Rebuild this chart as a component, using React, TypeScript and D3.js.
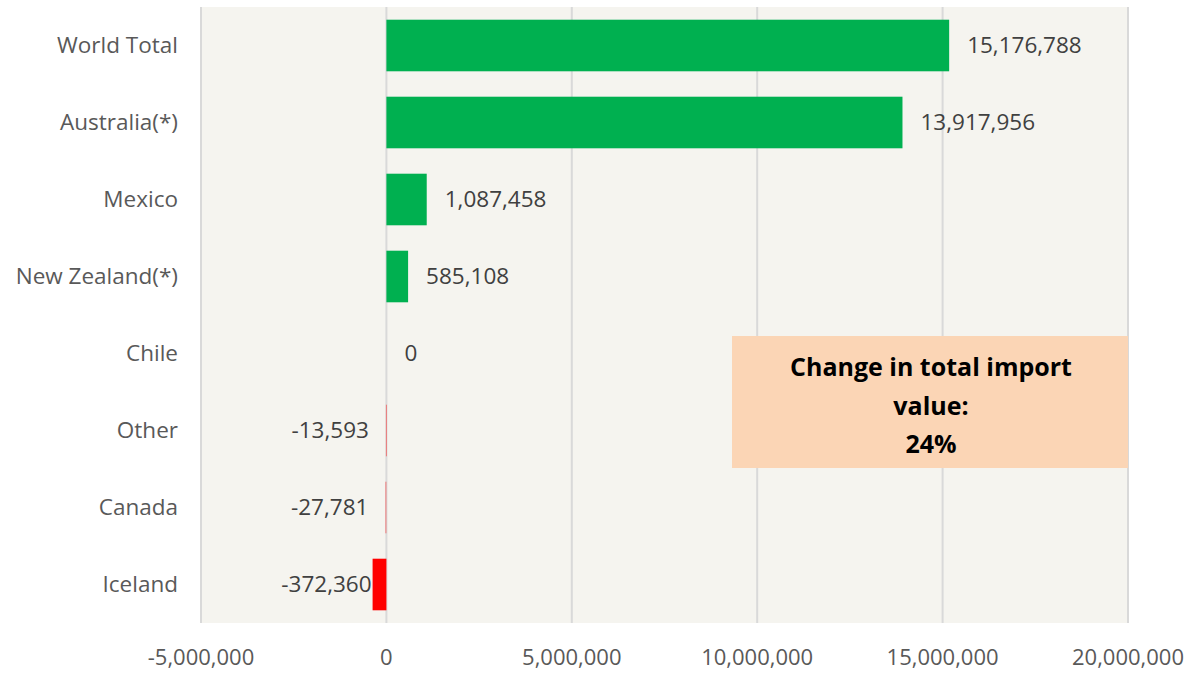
import React, { useEffect, useRef } from 'react';
import * as d3 from 'd3';

const categories = ['World Total', 'Australia(*)', 'Mexico', 'New Zealand(*)', 'Chile', 'Other', 'Canada', 'Iceland'];
const values = [15176788, 13917956, 1087458, 585108, 0, -13593, -27781, -372360];
const xTicks = [-5000000, 0, 5000000, 10000000, 15000000, 20000000];
const noteLines = ['Change in total import', 'value:', '24%'];

const W = 1199;
const H = 673;
const FONT = "'Open Sans', 'Noto Sans', sans-serif";

const fmt = d3.formatLocale({ decimal: '.', thousands: ',', grouping: [3], currency: ['$', ''], minus: '-' }).format(',');

export default function App() {
  const ref = useRef<SVGSVGElement>(null);

  useEffect(() => {
    const svg = d3.select(ref.current);
    svg.selectAll('*').remove();

    const margin = { top: 7, right: 71, bottom: 50, left: 201 };
    const width = W - margin.left - margin.right;
    const height = H - margin.top - margin.bottom;

    const x = d3.scaleLinear().domain([-5000000, 20000000]).range([0, width]);
    const y = d3.scaleBand().domain(categories).range([0, height]).paddingInner(0.33).paddingOuter(0.165);

    const g = svg.append('g').attr('transform', `translate(${margin.left},${margin.top})`);

    // plot background
    g.append('rect').attr('width', width).attr('height', height).attr('fill', '#f5f4ef');

    // vertical grid lines
    g.append('g')
      .selectAll('line')
      .data(xTicks)
      .enter()
      .append('line')
      .attr('x1', (d) => x(d))
      .attr('x2', (d) => x(d))
      .attr('y1', 0)
      .attr('y2', height)
      .attr('stroke', '#d9d9d9')
      .attr('stroke-width', 2);

    // x tick labels
    g.append('g')
      .selectAll('text')
      .data(xTicks)
      .enter()
      .append('text')
      .attr('x', (d) => x(d))
      .attr('y', height + 42)
      .attr('text-anchor', 'middle')
      .attr('fill', '#595959')
      .attr('font-size', 22)
      .attr('font-family', FONT)
      .text((d) => fmt(d));

    // category labels
    g.append('g')
      .selectAll('text')
      .data(categories)
      .enter()
      .append('text')
      .attr('x', -23)
      .attr('y', (d) => (y(d) as number) + y.bandwidth() / 2)
      .attr('dy', '0.35em')
      .attr('text-anchor', 'end')
      .attr('fill', '#595959')
      .attr('font-size', 22.5)
      .attr('font-family', FONT)
      .text((d) => d);

    const rows = categories.map((c, i) => ({ c, v: values[i] }));

    // bars
    g.append('g')
      .selectAll('rect')
      .data(rows)
      .enter()
      .append('rect')
      .attr('x', (d) => Math.min(x(0), x(d.v)))
      .attr('y', (d) => y(d.c) as number)
      .attr('width', (d) => Math.max(Math.abs(x(d.v) - x(0)), d.v < 0 ? 1 : 0))
      .attr('height', y.bandwidth())
      .attr('fill', (d) => (d.v >= 0 ? '#00b050' : '#ff0000'))
      .attr('fill-opacity', (d) => (d.v < 0 && d.v > -100000 ? 0.45 : 1));

    // value labels
    g.append('g')
      .selectAll('text')
      .data(rows)
      .enter()
      .append('text')
      .attr('x', (d) => (d.v >= 0 ? x(d.v) + 18 : d.v < -100000 ? x(d.v) - 1 : x(d.v) - 17))
      .attr('y', (d) => (y(d.c) as number) + y.bandwidth() / 2)
      .attr('dy', '0.35em')
      .attr('text-anchor', (d) => (d.v >= 0 ? 'start' : 'end'))
      .attr('fill', '#404040')
      .attr('font-size', 22.5)
      .attr('font-family', FONT)
      .text((d) => fmt(d.v));

    // note box
    const note = svg.append('g');
    note.append('rect')
      .attr('x', 732)
      .attr('y', 336)
      .attr('width', 396)
      .attr('height', 132)
      .attr('fill', '#fbd5b5');
    note.selectAll('text')
      .data(noteLines)
      .enter()
      .append('text')
      .attr('x', 931)
      .attr('y', (d, i) => 376 + i * 38.5)
      .attr('text-anchor', 'middle')
      .attr('font-size', 25)
      .attr('font-weight', 700)
      .attr('font-family', FONT)
      .attr('fill', '#000')
      .text((d) => d);
  }, []);

  return (
    <svg ref={ref} width={W} height={H} style={{ display: 'block', position: 'absolute', left: 0, top: 0, background: '#fff' }} />
  );
}
